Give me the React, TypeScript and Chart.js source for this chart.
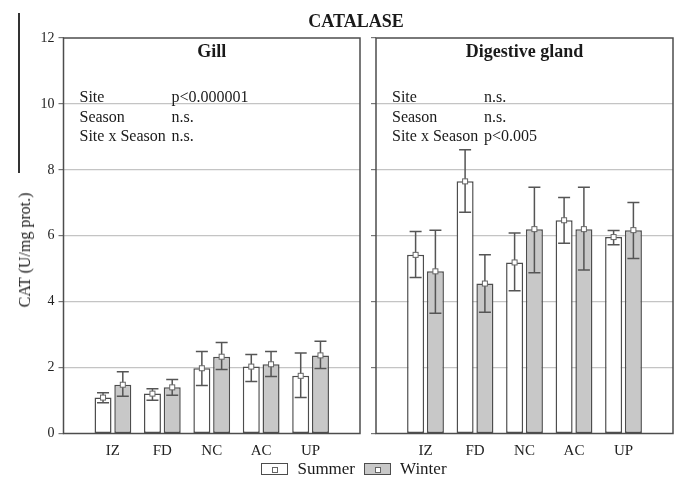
import React, { useEffect, useRef } from 'react';
import { Chart, registerables } from 'chart.js';

Chart.register(...registerables);

const sites = ['IZ', 'FD', 'NC', 'AC', 'UP'];
const yTicks = [0, 2, 4, 6, 8, 10, 12];

const gillSummer = [1.09, 1.21, 1.98, 2.03, 1.75];
const gillSummerHigh = [1.24, 1.36, 2.49, 2.4, 2.44];
const gillSummerLow = [0.93, 1.01, 1.46, 1.58, 1.09];
const gillWinter = [1.48, 1.4, 2.33, 2.1, 2.37];
const gillWinterHigh = [1.87, 1.64, 2.76, 2.49, 2.8];
const gillWinterLow = [1.13, 1.16, 1.94, 1.73, 1.97];

const dgSummer = [5.42, 7.65, 5.19, 6.47, 5.96];
const dgSummerHigh = [6.13, 8.61, 6.08, 7.16, 6.16];
const dgSummerLow = [4.73, 6.71, 4.33, 5.77, 5.73];
const dgWinter = [4.92, 4.55, 6.2, 6.2, 6.17];
const dgWinterHigh = [6.17, 5.42, 7.47, 7.47, 7.01];
const dgWinterLow = [3.65, 3.68, 4.88, 4.96, 5.31];

const gillStats = [
  ['Site', 'p<0.000001'],
  ['Season', 'n.s.'],
  ['Site x Season', 'n.s.'],
];
const dgStats = [
  ['Site', 'n.s.'],
  ['Season', 'n.s.'],
  ['Site x Season', 'p<0.005'],
];

const FONT = "'Liberation Serif', 'Times New Roman', serif";
const EDGE = '#4d4d4d';
const WINTER_FILL = '#c8c8c8';

const pad = (arr: number[]) => [null, ...arr, null];

type PanelSpec = {
  title: string;
  stats: string[][];
  summer: number[];
  summerHigh: number[];
  summerLow: number[];
  winter: number[];
  winterHigh: number[];
  winterLow: number[];
  showY: boolean;
  yWidth: number;
  padRight: number;
};

function makeChart(canvas: HTMLCanvasElement, p: PanelSpec) {
  const decor = {
    id: 'decor',
    afterDatasetsDraw(chart: any) {
      const ctx = chart.ctx;
      const ys = chart.scales.y;
      chart.data.datasets.forEach((ds: any, i: number) => {
        const meta = chart.getDatasetMeta(i);
        meta.data.forEach((bar: any, j: number) => {
          const v = ds.data[j];
          if (v === null || v === undefined) return;
          const hi = ys.getPixelForValue(ds.errHigh[j]);
          const lo = ys.getPixelForValue(ds.errLow[j]);
          ctx.save();
          ctx.strokeStyle = '#555';
          ctx.lineWidth = 1.5;
          ctx.beginPath();
          ctx.moveTo(bar.x, hi);
          ctx.lineTo(bar.x, lo);
          ctx.moveTo(bar.x - 6, hi);
          ctx.lineTo(bar.x + 6, hi);
          ctx.moveTo(bar.x - 6, lo);
          ctx.lineTo(bar.x + 6, lo);
          ctx.stroke();
          ctx.fillStyle = '#ffffff';
          ctx.strokeStyle = '#666';
          ctx.lineWidth = 1;
          ctx.fillRect(bar.x - 2.5, bar.y - 2.5, 5, 5);
          ctx.strokeRect(bar.x - 2.5, bar.y - 2.5, 5, 5);
          ctx.restore();
        });
      });
    },
    afterDraw(chart: any) {
      const ctx = chart.ctx;
      const a = chart.chartArea;
      ctx.save();
      ctx.strokeStyle = EDGE;
      ctx.lineWidth = 1.5;
      ctx.strokeRect(a.left, a.top, a.right - a.left, a.bottom - a.top);
      ctx.fillStyle = '#1a1a1a';
      ctx.font = `bold 18px ${FONT}`;
      ctx.textAlign = 'center';
      ctx.textBaseline = 'alphabetic';
      ctx.fillText(p.title, (a.left + a.right) / 2, a.top + 19);
      ctx.font = `16px ${FONT}`;
      ctx.textAlign = 'left';
      p.stats.forEach((row, k) => {
        const y = a.top + 64 + k * 19.5;
        ctx.fillText(row[0], a.left + 16, y);
        ctx.fillText(row[1], a.left + 108, y);
      });
      ctx.restore();
    },
  };

  return new Chart(canvas, {
    type: 'bar',
    data: {
      labels: ['', ...sites, ''],
      datasets: [
        {
          label: 'Summer',
          data: pad(p.summer),
          errHigh: pad(p.summerHigh),
          errLow: pad(p.summerLow),
          backgroundColor: '#ffffff',
          borderColor: EDGE,
          borderWidth: 1.5,
          borderSkipped: false,
          categoryPercentage: 0.8,
          barPercentage: 0.86,
        } as any,
        {
          label: 'Winter',
          data: pad(p.winter),
          errHigh: pad(p.winterHigh),
          errLow: pad(p.winterLow),
          backgroundColor: WINTER_FILL,
          borderColor: EDGE,
          borderWidth: 1.5,
          borderSkipped: false,
          categoryPercentage: 0.8,
          barPercentage: 0.86,
        } as any,
      ],
    },
    options: {
      responsive: false,
      animation: false,
      devicePixelRatio: 1,
      layout: { padding: { top: 38, right: p.padRight, bottom: 17.5, left: 0 } },
      plugins: {
        legend: { display: false },
        tooltip: { enabled: false },
        title: { display: false },
      },
      scales: {
        x: {
          offset: false,
          grid: { display: false },
          border: { display: false },
          ticks: {
            autoSkip: false,
            maxRotation: 0,
            padding: 1,
            color: '#222',
            font: { family: FONT, size: 15 },
          },
          afterFit: (s: any) => {
            s.height = 30;
          },
        },
        y: {
          min: 0,
          max: 12,
          afterBuildTicks: (s: any) => {
            s.ticks = yTicks.map((v) => ({ value: v }));
          },
          border: { display: false },
          grid: {
            color: (c: any) => (c.tick && (c.tick.value === 0 || c.tick.value === 12) ? 'rgba(0,0,0,0)' : '#c4c4c4'),
            lineWidth: 1.2,
            tickColor: '#777',
            tickLength: 5,
          },
          ticks: {
            display: p.showY,
            padding: 4,
            color: '#222',
            font: { family: FONT, size: 14 },
          },
          afterFit: (s: any) => {
            s.width = p.yWidth;
          },
        },
      },
    },
    plugins: [decor],
  } as any);
}

const legendBox = (fill: string) => (
  <span
    style={{
      position: 'relative',
      display: 'inline-block',
      width: 25,
      height: 10,
      border: `1.5px solid ${EDGE}`,
      background: fill,
      marginRight: 9,
      verticalAlign: 'middle',
    }}
  >
    <span
      style={{
        position: 'absolute',
        left: 10,
        top: 2.5,
        width: 4,
        height: 4,
        border: '1px solid #666',
        background: '#fff',
      }}
    />
  </span>
);

export default function App() {
  const leftRef = useRef<HTMLCanvasElement>(null);
  const rightRef = useRef<HTMLCanvasElement>(null);

  useEffect(() => {
    const c1 = makeChart(leftRef.current!, {
      title: 'Gill',
      stats: gillStats,
      summer: gillSummer,
      summerHigh: gillSummerHigh,
      summerLow: gillSummerLow,
      winter: gillWinter,
      winterHigh: gillWinterHigh,
      winterLow: gillWinterLow,
      showY: true,
      yWidth: 63.5,
      padRight: 6,
    });
    const c2 = makeChart(rightRef.current!, {
      title: 'Digestive gland',
      stats: dgStats,
      summer: dgSummer,
      summerHigh: dgSummerHigh,
      summerLow: dgSummerLow,
      winter: dgWinter,
      winterHigh: dgWinterHigh,
      winterLow: dgWinterLow,
      showY: false,
      yWidth: 10,
      padRight: 5,
    });
    return () => {
      c1.destroy();
      c2.destroy();
    };
  }, []);

  return (
    <div
      style={{
        position: 'fixed',
        left: 0,
        top: 0,
        width: 678,
        height: 481,
        background: '#fff',
        fontFamily: FONT,
        color: '#1a1a1a',
        overflow: 'hidden',
      }}
    >
      <div style={{ position: 'absolute', left: 18, top: 13, width: 1.5, height: 160, background: '#333' }} />
      <canvas ref={leftRef} width={366} height={481} style={{ position: 'absolute', left: 0, top: 0 }} />
      <canvas ref={rightRef} width={312} height={481} style={{ position: 'absolute', left: 366, top: 0 }} />
      <div
        style={{
          position: 'absolute',
          left: 256,
          width: 200,
          top: 10,
          textAlign: 'center',
          fontWeight: 'bold',
          fontSize: 18,
          lineHeight: '22px',
        }}
      >
        CATALASE
      </div>
      <div
        style={{
          position: 'absolute',
          left: 25,
          top: 250,
          transform: 'translate(-50%, -50%) rotate(-90deg)',
          whiteSpace: 'nowrap',
          fontSize: 16,
          lineHeight: '18px',
        }}
      >
        CAT (U/mg prot.)
      </div>
      <div
        style={{
          position: 'absolute',
          left: 154,
          width: 400,
          top: 457,
          textAlign: 'center',
          fontSize: 17,
          lineHeight: '22px',
          whiteSpace: 'nowrap',
        }}
      >
        {legendBox('#ffffff')}
        <span style={{ verticalAlign: 'middle', marginRight: 9 }}>Summer</span>
        {legendBox(WINTER_FILL)}
        <span style={{ verticalAlign: 'middle' }}>Winter</span>
      </div>
    </div>
  );
}
